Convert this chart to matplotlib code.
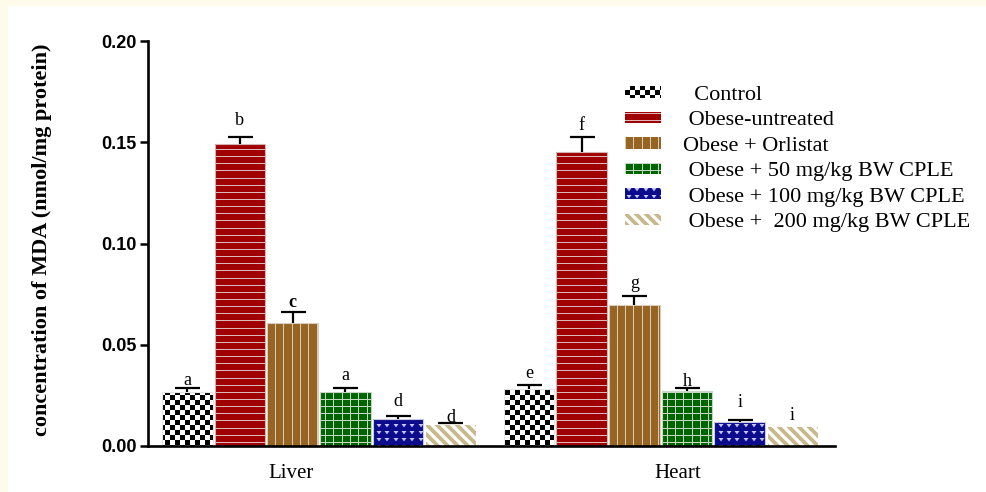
import numpy as np
import matplotlib
matplotlib.use("Agg")
import matplotlib.pyplot as plt
import matplotlib.hatch as mhatch
from matplotlib.path import Path
from matplotlib.patches import Rectangle
from matplotlib.ticker import FormatStrFormatter

# ---------------------------------------------------------------- data
tissues = ["Liver", "Heart"]
groups = ["  Control", " Obese-untreated", "Obese + Orlistat",
          " Obese + 50 mg/kg BW CPLE", " Obese + 100 mg/kg BW CPLE",
          " Obese +  200 mg/kg BW CPLE"]
liver_mean = [0.0267, 0.1490, 0.0607, 0.0267, 0.0133, 0.0109]
liver_sem = [0.0019, 0.0036, 0.0055, 0.0019, 0.0015, 0.0005]
heart_mean = [0.0281, 0.1452, 0.0696, 0.0272, 0.0119, 0.0099]
heart_sem = [0.0020, 0.0074, 0.0045, 0.0014, 0.0010, 0.0000]
liver_letters = ["a", "b", "c", "a", "d", "d"]
heart_letters = ["e", "f", "g", "h", "i", "i"]
yticks = [0.00, 0.05, 0.10, 0.15, 0.20]

# ---------------------------------------------------------------- textures
# Hatch tiles are rendered at 72 pt = 100 px (dpi 100); build them on a pixel grid.
TILE = 100.0
M, L, C = Path.MOVETO, Path.LINETO, Path.CLOSEPOLY


def _u(v):
    return v / TILE


def _poly(pts):
    return list(pts) + [pts[0]], [M] + [L] * (len(pts) - 1) + [C]


def tex_checker(cell=5):
    n = int(TILE // cell)
    verts, codes = [], []
    for i in range(n):
        for j in range(n):
            if (i + j) % 2 == 0:
                x0, y0 = _u(i * cell + 0.5), _u(j * cell + 0.5)
                x1, y1 = _u((i + 1) * cell - 0.5), _u((j + 1) * cell - 0.5)
                v, c = _poly([(x0, y0), (x1, y0), (x1, y1), (x0, y1)])
                verts += v
                codes += c
    return verts, codes


def tex_hlines(n):
    verts, codes = [], []
    for k in range(n):
        y = _u(round(k * TILE / n) + 0.5)
        verts += [(-0.05, y), (1.05, y)]
        codes += [M, L]
    return verts, codes


def tex_vlines(n):
    verts, codes = [], []
    for k in range(n):
        x = _u(round(k * TILE / n) + 0.5)
        verts += [(x, -0.05), (x, 1.05)]
        codes += [M, L]
    return verts, codes


def tex_grid(nx, ny):
    v1, c1 = tex_vlines(nx)
    v2, c2 = tex_hlines(ny)
    return v1 + v2, c1 + c2


def tex_hearts(nx, ny):
    verts, codes = [], []
    for i in range(nx):
        for j in range(ny):
            cx = round(i * TILE / nx) + 4.0
            cy = round(j * TILE / ny) + 3.5
            v, c = _poly([(_u(cx - 1.5), _u(cy + 1.0)), (_u(cx + 1.5), _u(cy + 1.0)),
                          (_u(cx), _u(cy - 1.0))])
            verts += v
            codes += c
    return verts, codes


def tex_stripes(period=10, band=4):
    verts, codes = [], []
    p, w = _u(period), _u(band)
    for k in range(-2, int(TILE // period) * 2 + 4):
        c0 = k * p
        v, c = _poly([(c0 + 0.1, -0.1), (c0 + w + 0.1, -0.1),
                      (c0 + w - 1.1, 1.1), (c0 - 1.1, 1.1)])
        verts += v
        codes += c
    return verts, codes


_textures = {
    "x+": tex_checker(5),
    "-.": tex_hlines(14),
    "|.": tex_vlines(12),
    "+.": tex_grid(12, 14),
    "o.": tex_hearts(12, 14),
    "\\.": tex_stripes(10, 4),
}
_texture_paths = {k: Path(np.array(v, float), np.array(c, Path.code_type))
                  for k, (v, c) in _textures.items()}
_stock_get_path = mhatch.get_path


def _get_path(hatchpattern, density=6):
    if hatchpattern in _texture_paths:
        return _texture_paths[hatchpattern]
    return _stock_get_path(hatchpattern, density)


mhatch.get_path = _get_path
plt.rcParams["hatch.linewidth"] = 0.72

hatches = ["x+", "-.", "|.", "+.", "o.", "\\."]
faces = ["white", "#a00000", "#966423", "#006400", "#0b0b8c", "white"]
inks = ["black", "#dcb8b8", "#dccbb4", "#c4d8c4", "#c8c8f0", "#c7b98b"]
borders = ["#e6e6e6", "#d2b4b4", "#d8ccbc", "#c8d4c8", "#c8c8e0", "#ffffff"]

# ---------------------------------------------------------------- figure
W, H = 987, 492
fig = plt.figure(figsize=(W / 100, H / 100), dpi=100, facecolor="#fffbea")
fig.patches.append(Rectangle((8 / W, 0), 1, 1 - 6 / H, transform=fig.transFigure,
                             facecolor="white", edgecolor="none", zorder=-10))
ax = fig.add_axes([148 / W, 46 / H, 687 / W, 405 / H])
ax.set_facecolor("none")

x = np.arange(len(tissues), dtype=float)
step, width = 0.154, 0.148
means_all = np.array([liver_mean, heart_mean]).T
sems_all = np.array([liver_sem, heart_sem]).T
letters_all = np.array([liver_letters, heart_letters]).T
letter_gap = [[3, 7], [12, 7], [5, 8], [8, 2], [10, 13], [1, 6]]

serif = "Liberation Serif"
for i, grp in enumerate(groups):
    pos = x + (i - 2.5) * step
    means = means_all[i]
    sems = sems_all[i]
    ax.bar(pos, means, width, color=faces[i], edgecolor=inks[i], linewidth=0,
           hatch=hatches[i], label=grp, zorder=2)
    ax.bar(pos, means, width, fill=False, edgecolor=borders[i], linewidth=0.8,
           zorder=2.1)
    keep = sems > 0
    if keep.any():
        eb = ax.errorbar(pos[keep], means[keep],
                         yerr=[np.zeros(keep.sum()), sems[keep]], fmt="none",
                         ecolor="black", elinewidth=1.6, capsize=9, capthick=1.6,
                         zorder=3)
        eb.lines[1][0].remove()
    for j in range(len(tissues)):
        ax.annotate(letters_all[i][j], (pos[j], means[j] + sems[j]),
                    xytext=(0, letter_gap[i][j]), textcoords="offset pixels",
                    ha="center", va="baseline", fontsize=13, family=serif,
                    fontweight="bold" if (i == 2 and j == 0) else "normal")

# ---------------------------------------------------------------- axes
ax.set_xlim(-0.5, 1.51)
ax.set_ylim(0, 0.2)
ax.set_yticks(yticks)
ax.yaxis.set_major_formatter(FormatStrFormatter("%.2f"))
ax.set_xticks(x + np.array([-0.08, 0.05]))
ax.set_xticklabels(tissues, family=serif, fontsize=15)
ax.tick_params(axis="x", length=0, pad=13)
ax.tick_params(axis="y", length=6, width=1.8, pad=2, labelsize=13)
for lab in ax.get_yticklabels():
    lab.set_family("Liberation Sans")
    lab.set_fontweight("bold")
for s in ("top", "right"):
    ax.spines[s].set_visible(False)
for s in ("left", "bottom"):
    ax.spines[s].set_linewidth(1.9)

ax.set_ylabel("concentration of MDA (nmol/mg protein)", family=serif,
              fontweight="bold", fontsize=16)
ax.yaxis.set_label_coords(-0.14, 0.51)

ax.legend(loc="upper left", bbox_to_anchor=(625 / W, 1 - 86 / H),
          bbox_transform=fig.transFigure, frameon=False, borderpad=0,
          borderaxespad=0, prop={"family": serif, "size": 16},
          handlelength=1.6, handleheight=0.4, handletextpad=1.0,
          labelspacing=0.29)

fig.savefig("out.png", dpi=100, facecolor=fig.get_facecolor())
